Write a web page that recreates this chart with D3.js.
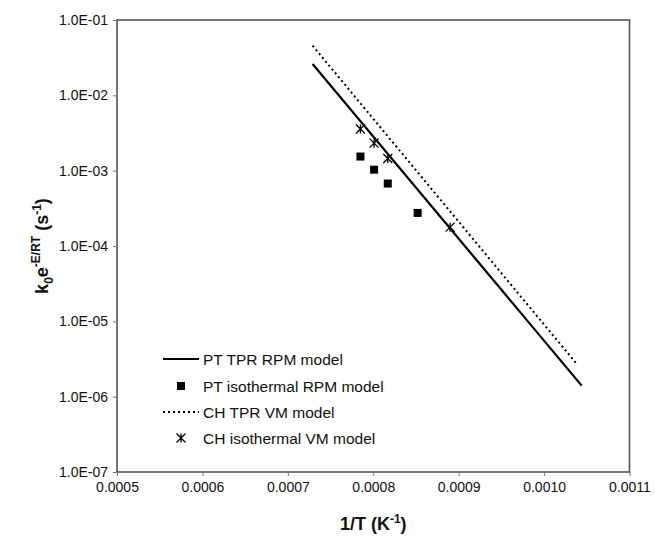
<!DOCTYPE html>
<html>
<head>
<meta charset="utf-8">
<script src="https://cdn.jsdelivr.net/npm/d3@7"></script>
<style>
  body { margin: 0; background: #fff; }
  text { font-family: "Liberation Sans", Arial, sans-serif; fill: #111; }
</style>
</head>
<body>
<script>
// model lines (end points of straight Arrhenius lines)
const ptTprX = [0.000729, 0.001044];
const ptTprY = [2.6e-2, 1.4e-6];
const chTprX = [0.000729, 0.001037];
const chTprY = [4.56e-2, 2.83e-6];

// isothermal points
const ptIsoX = [0.000785, 0.000801, 0.000817, 0.000852];
const ptIsoY = [1.54e-3, 1.03e-3, 6.75e-4, 2.75e-4];
const chIsoX = [0.000785, 0.000801, 0.000817, 0.000890];
const chIsoY = [3.58e-3, 2.32e-3, 1.45e-3, 1.78e-4];

const xTicks = [0.0005, 0.0006, 0.0007, 0.0008, 0.0009, 0.0010, 0.0011];
const yTicks = [1e-1, 1e-2, 1e-3, 1e-4, 1e-5, 1e-6, 1e-7];
const legendLabels = ["PT TPR RPM model", "PT isothermal RPM model", "CH TPR VM model", "CH isothermal VM model"];

const W = 655, H = 540;
const m = { left: 117, right: 25.5, top: 20, bottom: 68 };

const svg = d3.select("body").append("svg")
    .attr("width", W).attr("height", H)
    .attr("xmlns", "http://www.w3.org/2000/svg");

const x = d3.scaleLinear().domain([0.0005, 0.0011]).range([m.left, W - m.right]);
const y = d3.scaleLog().domain([1e-7, 1e-1]).range([H - m.bottom, m.top]);

const g = svg.append("g");

// plot frame
g.append("rect")
    .attr("x", x(0.0005)).attr("y", y(1e-1))
    .attr("width", x(0.0011) - x(0.0005))
    .attr("height", y(1e-7) - y(1e-1))
    .attr("fill", "none").attr("stroke", "#555").attr("stroke-width", 1.6);

const xAxis = g.append("g")
    .attr("transform", `translate(0,${y(1e-7)})`)
    .call(d3.axisBottom(x).tickValues(xTicks).tickSize(4).tickPadding(6)
        .tickFormat(d3.format(".4f")));
const yAxis = g.append("g")
    .attr("transform", `translate(${x(0.0005)},0)`)
    .call(d3.axisLeft(y).tickValues(yTicks).tickSize(4).tickPadding(5)
        .tickFormat(d => "1.0E-0" + Math.round(-Math.log10(d))));

[xAxis, yAxis].forEach(a => {
    a.select(".domain").remove();
    a.attr("font-size", null).attr("font-family", null);
    a.selectAll("line").attr("stroke", "#777");
    a.selectAll("text")
        .style("font-family", "Liberation Sans, Arial, sans-serif")
        .style("font-size", "14px").attr("fill", "#111");
});

// lines
const line = d3.line().x(d => x(d[0])).y(d => y(d[1]));
g.append("path")
    .datum(d3.zip(ptTprX, ptTprY))
    .attr("d", line).attr("fill", "none")
    .attr("stroke", "#000").attr("stroke-width", 2.2);
g.append("path")
    .datum(d3.zip(chTprX, chTprY))
    .attr("d", line).attr("fill", "none")
    .attr("stroke", "#000").attr("stroke-width", 2)
    .attr("stroke-dasharray", "2,3");

// markers
function square(sel, cx, cy) {
    sel.append("rect")
        .attr("x", cx - 4).attr("y", cy - 4)
        .attr("width", 8).attr("height", 8).attr("fill", "#000");
}
function star(sel, cx, cy) {
    const r = 4.5;
    sel.append("path")
        .attr("d", `M${cx - r},${cy - r}L${cx + r},${cy + r}M${cx - r},${cy + r}L${cx + r},${cy - r}M${cx},${cy - r}L${cx},${cy + r}`)
        .attr("stroke", "#000").attr("stroke-width", 1.3).attr("fill", "none");
}
d3.zip(ptIsoX, ptIsoY).forEach(d => square(g, x(d[0]), y(d[1])));
d3.zip(chIsoX, chIsoY).forEach(d => star(g, x(d[0]), y(d[1])));

// legend
const lg = g.append("g");
const rowY = [359, 386, 412, 438];
legendLabels.forEach((lab, i) => {
    const ry = rowY[i];
    if (i === 0) {
        lg.append("line").attr("x1", 163).attr("x2", 199).attr("y1", ry).attr("y2", ry)
            .attr("stroke", "#000").attr("stroke-width", 2.2);
    } else if (i === 2) {
        lg.append("line").attr("x1", 163).attr("x2", 199).attr("y1", ry).attr("y2", ry)
            .attr("stroke", "#000").attr("stroke-width", 2).attr("stroke-dasharray", "2,3");
    } else if (i === 1) {
        square(lg, 181, ry);
    } else {
        star(lg, 181, ry);
    }
    lg.append("text").attr("x", 203).attr("y", ry + 5.5)
        .style("font-size", "15.5px").text(lab);
});

// axis titles
svg.append("text")
    .attr("x", (x(0.0005) + x(0.0011)) / 2).attr("y", 530)
    .attr("text-anchor", "middle")
    .style("font-size", "18px").style("font-weight", "bold")
    .call(t => {
        t.append("tspan").text("1/T (K");
        t.append("tspan").attr("dy", -7).style("font-size", "12px").text("-1");
        t.append("tspan").attr("dy", 7).text(")");
    });

svg.append("text")
    .attr("transform", `translate(48,${(y(1e-1) + y(1e-7)) / 2}) rotate(-90)`)
    .attr("text-anchor", "middle")
    .style("font-size", "18px").style("font-weight", "bold")
    .call(t => {
        t.append("tspan").text("k");
        t.append("tspan").attr("dy", 5).style("font-size", "12px").text("0");
        t.append("tspan").attr("dy", -5).text("e");
        t.append("tspan").attr("dy", -8).style("font-size", "12px").text("-E/RT");
        t.append("tspan").attr("dy", 8).text(" (s");
        t.append("tspan").attr("dy", -7).style("font-size", "12px").text("-1");
        t.append("tspan").attr("dy", 7).text(")");
    });
</script>
</body>
</html>
